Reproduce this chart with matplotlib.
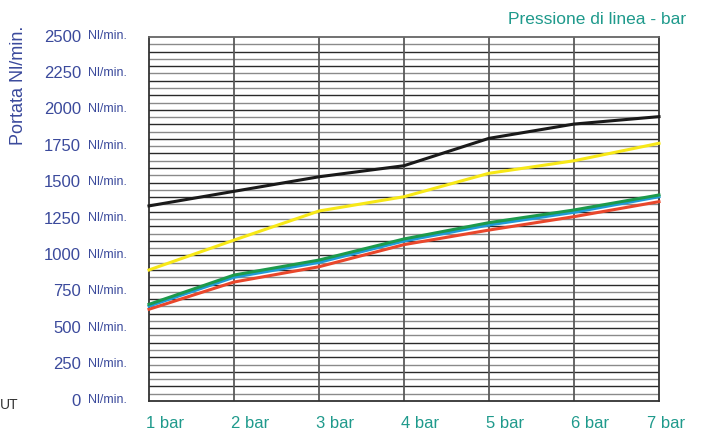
import numpy as np
import matplotlib.pyplot as plt
from matplotlib.transforms import blended_transform_factory

plt.rcParams['font.family'] = ['Liberation Sans', 'DejaVu Sans']

# line pressure (bar) and flow (Nl/min)
pressures = [1, 2, 3, 4, 5, 6, 7]
x_labels = ['1 bar', '2 bar', '3 bar', '4 bar', '5 bar', '6 bar', '7 bar']
y_ticks = [0, 250, 500, 750, 1000, 1250, 1500, 1750, 2000, 2250, 2500]

flow_black = [1340, 1440, 1540, 1616, 1804, 1902, 1953]
flow_yellow = [900, 1105, 1305, 1403, 1564, 1650, 1770]
flow_green = [664, 865, 968, 1113, 1225, 1312, 1415]
flow_blue = [652, 850, 952, 1099, 1209, 1296, 1403]
flow_red = [630, 817, 922, 1074, 1174, 1266, 1369]

blue_txt = '#3b4a9c'
teal_txt = '#1f9a8c'

fig = plt.figure(figsize=(7.06, 4.30), dpi=100)
ax = fig.add_axes([149/706, 29/430, 510/706, 364/430])

ax.set_xlim(1, 7)
ax.set_ylim(0, 2500)

# horizontal grid every 50, alternating dark / grey
for i, yv in enumerate(np.arange(50, 2500, 50)):
    c = '#2a2a2a' if i % 2 == 1 else '#8a8a8a'
    ax.axhline(yv, color=c, lw=1.0, zorder=1)
for xv in pressures[1:-1]:
    ax.axvline(xv, color='#5a5a5a', lw=1.3, zorder=1)

for s in ax.spines.values():
    s.set_color('#333333')
    s.set_linewidth(1.3)
ax.spines['top'].set_color('#666666')
ax.set_xticks([])
ax.set_yticks([])

ax.plot(pressures, flow_black, color='#1a1a1a', lw=2.2, zorder=3, clip_on=False)
ax.plot(pressures, flow_yellow, color='#f7e817', lw=2.2, zorder=3, clip_on=False)
ax.plot(pressures, flow_red, color='#e9472c', lw=2.2, zorder=3, clip_on=False)
ax.plot(pressures, flow_blue, color='#1f9ad8', lw=2.2, zorder=3, clip_on=False)
ax.plot(pressures, flow_green, color='#1c9a4c', lw=2.2, zorder=4, clip_on=False)

# y tick labels: number + small unit
ty = blended_transform_factory(fig.transFigure, ax.transData)
for v in y_ticks:
    ax.text(81/706, v, str(v), transform=ty, ha='right', va='center',
            fontsize=12, color=blue_txt)
    ax.text(88/706, v + 4, 'Nl/min.', transform=ty, ha='left', va='center',
            fontsize=9, color=blue_txt)

# x tick labels
tx = blended_transform_factory(ax.transData, fig.transFigure)
for p, lab in zip(pressures, x_labels):
    off = 0.08 if p == pressures[-1] else 0.19
    ax.text(p + off, 7/430, lab, transform=tx, ha='center', va='center',
            fontsize=12, color=teal_txt)

fig.text(19/706, 345/430, 'Portata Nl/min.', rotation=90, ha='center',
         va='center', fontsize=13, color=blue_txt)
fig.text(686/706, 410/430, 'Pressione di linea - bar', ha='right',
         va='center', fontsize=12.5, color=teal_txt)
fig.text(0.0, 25/430, 'UT', ha='left', va='center', fontsize=10,
         color='#333333')

fig.savefig('out.png', dpi=100)
